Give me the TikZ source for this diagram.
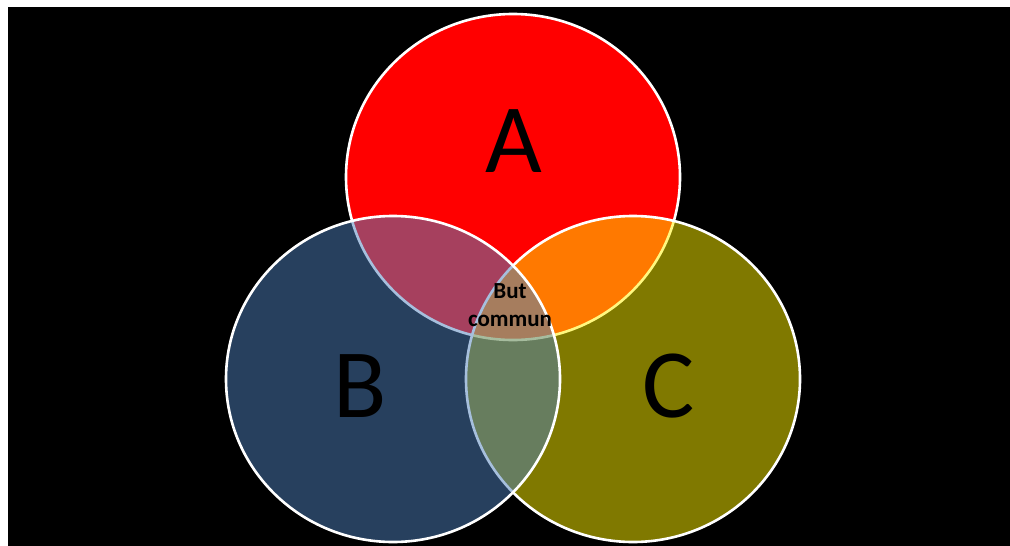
\documentclass[tikz,border=0pt]{standalone}
\usepackage{fontspec}
\setmainfont{Carlito}
\definecolor{vblue}{HTML}{4F81BD}
\begin{document}
\begin{tikzpicture}[x=1pt,y=-1pt,
  setshape/.style={draw=white,line width=2.6pt},
  biglabel/.style={font=\fontsize{98}{98}\selectfont,text=black,anchor=base,inner sep=0pt},
  midlabel/.style={font=\bfseries\fontsize{23}{28}\selectfont,text=black,align=center,inner sep=0pt}]
\useasboundingbox (0,0) rectangle (1010,546);
\fill[white] (0,0) rectangle (1010,546);
\fill[black] (8,7) rectangle (1010,546);
% set A
\path[setshape,fill=red] (513,177) ellipse [x radius=167pt, y radius=163pt];
% set C
\path[setshape,fill=yellow,fill opacity=0.5] (633,379) ellipse [x radius=167pt, y radius=163pt];
% set B
\path[setshape,fill=vblue,fill opacity=0.5] (393,379) ellipse [x radius=167pt, y radius=163pt];
% labels
\node[biglabel] (la) at (514,172) {A};
\node[biglabel] (lb) at (360,417) {B};
\node[biglabel] (lc) at (669,417) {C};
\node[midlabel] (lm) at (510,305) {But\\commun};
\end{tikzpicture}
\end{document}
